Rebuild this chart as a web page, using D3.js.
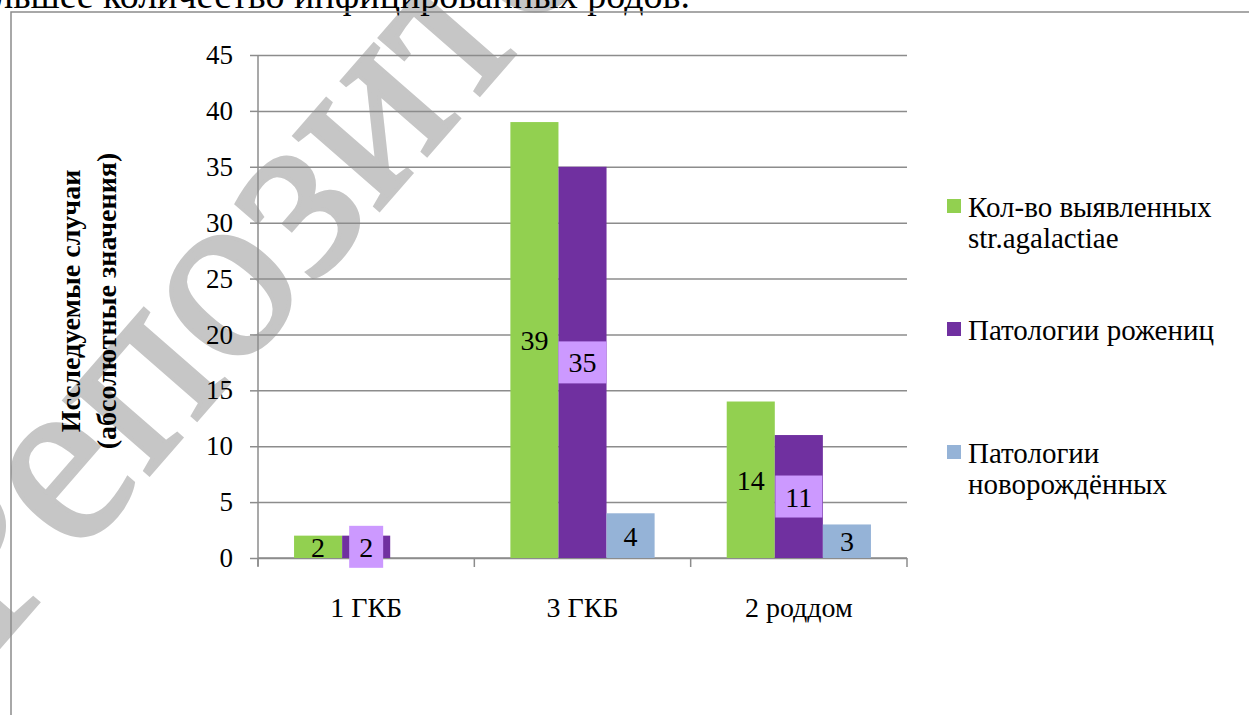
<!DOCTYPE html>
<html>
<head>
<meta charset="utf-8">
<script src="https://cdn.jsdelivr.net/npm/d3@7"></script>
<style>
  html, body { margin: 0; padding: 0; background: #ffffff; }
  svg { display: block; }
  svg text { font-family: "Liberation Serif", "DejaVu Serif", serif; }
</style>
</head>
<body>
<div id="chart"></div>
<script>
// Chart data
const categories = ['1 ГКБ', '3 ГКБ', '2 роддом'];
const seriesNames = [
  ['Кол-во выявленных', 'str.agalactiae'],
  ['Патологии рожениц'],
  ['Патологии', 'новорождённых'],
];
const foundValues = [2, 39, 14];
const motherValues = [2, 35, 11];
const newbornValues = [null, 4, 3];
const yTicks = [0, 5, 10, 15, 20, 25, 30, 35, 40, 45];
const yTitle = ['Исследуемые случаи', '(абсолютные значения)'];
const pageText = 'наибольшее количество инфицированных родов.';
const watermark = 'Репозиторий';

const colors = ['#92d050', '#7030a0', '#95b3d7'];
const gridColor = '#8c8c8c';

const drawChart = () => {
  const totalWidth = 1249;
  const totalHeight = 715;
  const plot = { left: 258, right: 907, top: 55, bottom: 558 };

  const series = [foundValues, motherValues, newbornValues];
  const data = categories.map((c, i) => ({
    category: c,
    values: series.map((s, k) => ({ key: k, value: s[i] })),
  }));

  const xScale = d3
    .scaleBand()
    .domain(categories)
    .range([plot.left, plot.right])
    .padding(0);

  // gap width 150% -> outer padding of 0.75 bar widths on each side
  const xInner = d3
    .scaleBand()
    .domain(d3.range(series.length))
    .range([0, xScale.bandwidth()])
    .paddingInner(0)
    .paddingOuter(0.75);

  const yScale = d3
    .scaleLinear()
    .domain([0, d3.max(yTicks)])
    .range([plot.bottom, plot.top]);

  const svg = d3
    .select('#chart')
    .append('svg')
    .attr('width', totalWidth)
    .attr('height', totalHeight)
    .attr('viewBox', `0 0 ${totalWidth} ${totalHeight}`);

  svg.append('rect').attr('width', totalWidth).attr('height', totalHeight).attr('fill', '#ffffff');

  // Watermark
  svg
    .append('text')
    .attr('transform', 'translate(-12,660) rotate(-49)')
    .attr('font-size', 245)
    .attr('fill', '#c6c6c6')
    .attr('stroke', '#c6c6c6')
    .attr('stroke-width', 4)
    .text(watermark);

  // Page text cut at the top
  svg
    .append('text')
    .attr('x', 690)
    .attr('y', 8)
    .attr('text-anchor', 'end')
    .attr('font-size', 38)
    .attr('fill', '#000000')
    .text(pageText);

  // Chart frame
  svg
    .append('path')
    .attr('d', `M11,${totalHeight} V12 H${totalWidth}`)
    .attr('fill', 'none')
    .attr('stroke', gridColor)
    .attr('stroke-width', 1.5);

  // Gridlines and y axis
  const yAxis = svg
    .append('g')
    .attr('transform', `translate(${plot.left},0)`)
    .call(d3.axisLeft(yScale).tickValues(yTicks).tickSize(8).tickPadding(17))
    .call((g) => g.select('.domain').remove())
    .call((g) =>
      g
        .selectAll('.tick line')
        .clone()
        .attr('x1', 0)
        .attr('x2', plot.right - plot.left)
    );
  yAxis.attr('font-family', null);
  yAxis.selectAll('line').attr('stroke', gridColor).attr('stroke-width', 1.5);
  yAxis.selectAll('text').attr('font-size', 27).attr('fill', '#000000');

  svg
    .append('line')
    .attr('x1', plot.left)
    .attr('x2', plot.left)
    .attr('y1', plot.top)
    .attr('y2', plot.bottom + 8)
    .attr('stroke', gridColor)
    .attr('stroke-width', 1.5);

  // x axis
  const xAxis = svg
    .append('g')
    .attr('transform', `translate(0,${plot.bottom})`)
    .call(d3.axisBottom(xScale).tickSize(0).tickPadding(39));
  xAxis.attr('font-family', null);
  xAxis.select('.domain').remove();
  xAxis.selectAll('text').attr('font-size', 28).attr('fill', '#000000');

  svg
    .append('line')
    .attr('x1', plot.left)
    .attr('x2', plot.right)
    .attr('y1', plot.bottom)
    .attr('y2', plot.bottom)
    .attr('stroke', gridColor)
    .attr('stroke-width', 1.5);

  // Category boundary ticks
  const boundaries = categories.map((c) => xScale(c)).concat([plot.right]);
  svg
    .selectAll('.cat-tick')
    .data(boundaries)
    .join('line')
    .attr('x1', (d) => d)
    .attr('x2', (d) => d)
    .attr('y1', plot.bottom)
    .attr('y2', plot.bottom + 9)
    .attr('stroke', gridColor)
    .attr('stroke-width', 1.5);

  // Bars
  const groups = svg
    .selectAll('.group')
    .data(data)
    .join('g')
    .attr('transform', (d) => `translate(${xScale(d.category)},0)`);

  groups
    .selectAll('rect')
    .data((d) => d.values.filter((v) => v.value !== null))
    .join('rect')
    .attr('x', (d) => xInner(d.key))
    .attr('y', (d) => yScale(d.value))
    .attr('width', xInner.bandwidth())
    .attr('height', (d) => plot.bottom - yScale(d.value))
    .attr('fill', (d) => colors[d.key]);

  // Data labels
  const labels = groups
    .selectAll('.label')
    .data((d) => d.values.filter((v) => v.value !== null))
    .join('g')
    .attr(
      'transform',
      (d) => `translate(${xInner(d.key) + xInner.bandwidth() / 2},${yScale(d.value / 2)})`
    );

  labels.each(function (d) {
    const g = d3.select(this);
    const text = g
      .append('text')
      .attr('text-anchor', 'middle')
      .attr('y', 10)
      .attr('font-size', 28)
      .attr('fill', '#000000')
      .text(d.value);
    if (d.key === 1) {
      const w = text.node().getComputedTextLength() + 20;
      g.insert('rect', 'text')
        .attr('x', -w / 2)
        .attr('y', -21)
        .attr('width', w)
        .attr('height', 42)
        .attr('fill', '#cc99ff');
    }
  });

  // y axis title
  const title = svg
    .append('text')
    .attr('transform', 'translate(0,301) rotate(-90)')
    .attr('text-anchor', 'middle')
    .attr('font-size', 28)
    .attr('font-weight', 'bold')
    .attr('fill', '#000000');
  title
    .selectAll('tspan')
    .data(yTitle)
    .join('tspan')
    .attr('x', 0)
    .attr('y', (d, i) => 80 + i * 36)
    .text((d) => d);

  // Legend
  const legendTops = [199, 322, 445];
  const legend = svg
    .selectAll('.legend')
    .data(seriesNames)
    .join('g')
    .attr('transform', (d, i) => `translate(947,${legendTops[i]})`);

  legend
    .append('rect')
    .attr('width', 14)
    .attr('height', 14)
    .attr('fill', (d, i) => colors[i]);

  legend
    .append('text')
    .attr('font-size', 29)
    .attr('fill', '#000000')
    .selectAll('tspan')
    .data((d) => d)
    .join('tspan')
    .attr('x', 21)
    .attr('y', (d, i) => 18 + i * 31)
    .text((d) => d);
};

drawChart();
</script>
</body>
</html>
